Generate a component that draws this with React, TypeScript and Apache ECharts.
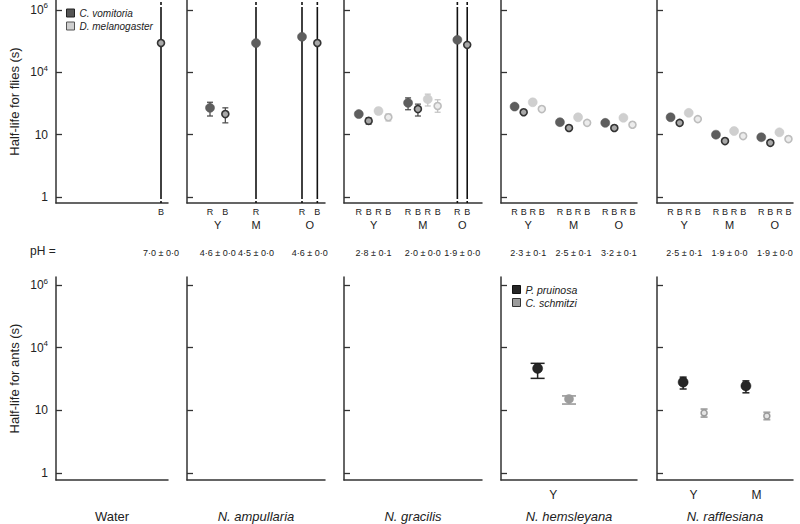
import React, { useEffect, useRef } from 'react';
import * as echarts from 'echarts';

// ---------------- data ----------------
const panelNames = ['Water', 'N. ampullaria', 'N. gracilis', 'N. hemsleyana', 'N. rafflesiana'];

// y axis: evenly spaced (broken) tick values, in seconds
const yTickValues = [1, 10, 1e4, 1e6];
const yTickLabels = ['1', '10', '{b|10}{s|4}', '{b|10}{s|6}'];

// flies: number of slots on each panel's x axis, age-group labels and pH
const flySlotCount = [8, 9, 14, 15, 15];
const flyGroupLabels = [[''], ['Y', 'M', 'O'], ['Y', 'M', 'O'], ['Y', 'M', 'O'], ['Y', 'M', 'O']];
const pHValues = [
  ['7·0 ± 0·0'],
  ['4·6 ± 0·0', '4·5 ± 0·0', '4·6 ± 0·0'],
  ['2·8 ± 0·1', '2·0 ± 0·0', '1·9 ± 0·0'],
  ['2·3 ± 0·1', '2·5 ± 0·1', '3·2 ± 0·1'],
  ['2·5 ± 0·1', '1·9 ± 0·0', '1·9 ± 0·0'],
];

// records: [panel, age group, slot, half-life (s), lower, upper]  (upper = Infinity: unbounded)
const vomitoriaRed = [
  [1, 0, 1, 195, 79, 363],
  [1, 1, 4, 87000, 0, Infinity],
  [1, 2, 7, 138000, 0, Infinity],
  [2, 0, 1, 98, 74, 129],
  [2, 1, 6, 339, 158, 589],
  [2, 2, 11, 110000, 0, Infinity],
  [3, 0, 1, 224, 180, 280],
  [3, 1, 6, 40, 32, 50],
  [3, 2, 11, 37, 30, 46],
  [4, 0, 1, 69, 56, 85],
  [4, 1, 6, 10, 9.3, 10.8],
  [4, 2, 11, 9.1, 8.5, 9.8],
];
const vomitoriaBlue = [
  [0, 0, 7, 87000, 0, Infinity],
  [1, 0, 2, 98, 37, 195],
  [1, 2, 8, 87000, 0, Infinity],
  [2, 0, 2, 46, 32, 65],
  [2, 1, 7, 170, 79, 295],
  [2, 2, 12, 76000, 0, Infinity],
  [3, 0, 2, 120, 97, 148],
  [3, 1, 7, 21, 17, 26],
  [3, 2, 12, 21, 17, 26],
  [4, 0, 2, 37, 30, 46],
  [4, 1, 7, 7.9, 7.4, 8.5],
  [4, 2, 12, 7.4, 6.9, 7.9],
];
const melanogasterRed = [
  [2, 0, 3, 138, 98, 182],
  [2, 1, 8, 513, 240, 891],
  [3, 0, 3, 363, 295, 447],
  [3, 1, 8, 69, 56, 85],
  [3, 2, 13, 65, 53, 80],
  [4, 0, 3, 112, 91, 138],
  [4, 1, 8, 15, 14, 16.2],
  [4, 2, 13, 13, 12.2, 14],
];
const melanogasterBlue = [
  [2, 0, 4, 69, 46, 98],
  [2, 1, 9, 240, 120, 479],
  [3, 0, 4, 170, 138, 209],
  [3, 1, 9, 37, 30, 46],
  [3, 2, 14, 30, 24, 37],
  [4, 0, 4, 56, 45, 69],
  [4, 1, 9, 9.5, 8.9, 10.2],
  [4, 2, 14, 8.5, 7.9, 9.1],
];

// ants
const antSlotCount = [13, 13, 13, 13, 13];
const antGroupLabels = [[], [], [], ['Y'], ['Y', 'M']];
const pruinosa = [
  [3, 0, 3, 1020, 339, 1780],
  [4, 0, 2, 224, 105, 389],
  [4, 1, 8, 148, 69, 257],
];
const schmitzi = [
  [3, 0, 6, 35, 20, 49],
  [4, 0, 4, 9.1, 7.8, 11.5],
  [4, 1, 10, 8.1, 7.1, 9.3],
];

// ---------------- layout & style ----------------
const FONT = '"Liberation Sans", Arial, Helvetica, sans-serif';
const panelLeft = [56, 187, 344, 501, 657];
const panelRight = [168, 325, 482, 637, 793];
const flyGrid = { top: 0, height: 203 };
const antGrid = { top: 277, height: 203 };
const flyRange = { min: -0.096, max: 3.16 };
const antRange = { min: -0.112, max: 3.128 };
const antCapWidth = [0, 0, 0, 14, 7];

const flyKinds = [
  { name: 'C. vomitoria', recs: vomitoriaRed, trap: 'R', size: 9, color: '#5e5e5e', border: '#555', bw: 0.5, err: '#444' },
  { name: 'C. vomitoria', recs: vomitoriaBlue, trap: 'B', size: 7, color: '#a8a8a8', border: '#333', bw: 1.6, err: '#444' },
  { name: 'D. melanogaster', recs: melanogasterRed, trap: 'R', size: 9, color: '#cfcfcf', border: '#c8c8c8', bw: 0.5, err: '#c2c2c2' },
  { name: 'D. melanogaster', recs: melanogasterBlue, trap: 'B', size: 7, color: '#ececec', border: '#bdbdbd', bw: 1.6, err: '#c2c2c2' },
];

const logTicks = yTickValues.map((v) => Math.log10(v));
function toPos(v: number): number {
  const l = Math.log10(v);
  const n = logTicks.length;
  for (let k = 0; k < n - 1; k++) {
    if (l <= logTicks[k + 1] || k === n - 2) {
      return k + (l - logTicks[k]) / (logTicks[k + 1] - logTicks[k]);
    }
  }
  return n - 1;
}

function errRender(cap: number, color: string, width: number, openColor: string) {
  return (params: any, api: any) => {
    const x = api.value(0);
    const lo = api.value(2);
    const hi = api.value(3);
    const open = api.value(4);
    const seg = (a: number[], b: number[], stroke: string, dash?: number[], w = width) => ({
      type: 'line',
      shape: { x1: a[0], y1: a[1], x2: b[0], y2: b[1] },
      style: { stroke, lineWidth: w, lineDash: dash || null },
    });
    const children: any[] = [];
    if (open) {
      const pMin = api.coord([x, lo]);
      const p0 = api.coord([x, 0]);
      const p3 = api.coord([x, yTickValues.length - 1]);
      const pMax = api.coord([x, hi]);
      children.push(seg(p0, p3, openColor, undefined, 1.6));
      children.push(seg(pMin, p0, openColor, [2, 2], 1.6));
      children.push(seg(p3, pMax, openColor, [3, 2], 1.6));
    } else {
      const a = api.coord([x, lo]);
      const b = api.coord([x, hi]);
      const h = cap / 2;
      children.push(seg(a, b, color));
      children.push(seg([a[0] - h, a[1]], [a[0] + h, a[1]], color));
      children.push(seg([b[0] - h, b[1]], [b[0] + h, b[1]], color));
    }
    return { type: 'group', children };
  };
}

function yAxisFor(gridIndex: number, range: any, showLabels: boolean, name: string) {
  return {
    type: 'value',
    gridIndex,
    min: range.min,
    max: range.max,
    axisLine: { show: true, onZero: false, lineStyle: { color: '#333', width: 1.5 } },
    axisTick: { show: true, inside: true, length: 6, customValues: [0, 1, 2, 3], lineStyle: { color: '#333', width: 1.3 } },
    axisLabel: {
      show: showLabels,
      customValues: [0, 1, 2, 3],
      margin: 8,
      color: '#222',
      fontSize: 12,
      fontFamily: FONT,
      hideOverlap: false,
      formatter: (v: number) => yTickLabels[Math.round(v)] ?? '',
      rich: {
        b: { fontSize: 12, color: '#222', fontFamily: FONT, lineHeight: 16 },
        s: { fontSize: 8, color: '#222', fontFamily: FONT, lineHeight: 8, verticalAlign: 'top' },
      },
    },
    splitLine: { show: false },
    name,
    nameLocation: 'middle',
    nameGap: 35,
    nameTextStyle: { fontSize: 13, color: '#222', fontFamily: FONT },
  };
}

function xAxisFor(gridIndex: number, n: number, values: number[], labels: string[], o: any) {
  const map = new Map(values.map((v, i) => [v.toFixed(2), labels[i]]));
  return {
    type: 'value',
    gridIndex,
    min: 0,
    max: n,
    position: 'bottom',
    axisLine: { show: !!o.line, onZero: false, lineStyle: { color: '#333', width: 1.5 } },
    axisTick: { show: false },
    splitLine: { show: false },
    axisLabel: {
      show: values.length > 0,
      customValues: values.length ? values : undefined,
      formatter: (v: number) => map.get(v.toFixed(2)) ?? '',
      margin: o.margin,
      fontSize: o.fontSize,
      color: '#222',
      fontFamily: FONT,
      fontStyle: o.fontStyle || 'normal',
      hideOverlap: false,
      showMinLabel: true,
      showMaxLabel: true,
    },
  };
}

function buildOption() {
  const grid: any[] = [];
  const xAxis: any[] = [];
  const yAxis: any[] = [];
  const series: any[] = [];

  // ---- flies (top row) ----
  for (let p = 0; p < 5; p++) {
    const gi = p;
    grid.push({ left: panelLeft[p], width: panelRight[p] - panelLeft[p], top: flyGrid.top, height: flyGrid.height });
    yAxis.push(yAxisFor(gi, flyRange, p === 0, p === 0 ? 'Half-life for flies (s)' : ''));
    const slotVals: number[] = [];
    const slotLabs: string[] = [];
    const groupXs: number[][] = flyGroupLabels[p].map(() => []);
    flyKinds.forEach((k) => {
      k.recs.filter((r) => r[0] === p).forEach((r) => {
        slotVals.push(r[2] + 0.5);
        slotLabs.push(k.trap);
        groupXs[r[1]].push(r[2] + 0.5);
      });
    });
    const groupCenters = groupXs.map((xs) => xs.reduce((a, b) => a + b, 0) / xs.length);
    const xi = xAxis.length;
    xAxis.push(xAxisFor(gi, flySlotCount[p], slotVals, slotLabs, { line: true, margin: 4, fontSize: 9 }));
    xAxis.push(xAxisFor(gi, flySlotCount[p], groupCenters, flyGroupLabels[p], { margin: 16, fontSize: 11 }));
    xAxis.push(xAxisFor(gi, flySlotCount[p], groupCenters, pHValues[p], { margin: 45, fontSize: 9 }));

    flyKinds.forEach((k) => {
      const recs = k.recs.filter((r) => r[0] === p);
      if (!recs.length) return;
      series.push({
        type: 'custom',
        xAxisIndex: xi,
        yAxisIndex: gi,
        z: 2,
        silent: true,
        renderItem: errRender(6, k.err, 1.2, '#111'),
        data: recs.map((r) => {
          const open = !isFinite(r[5]);
          return [r[2] + 0.5, toPos(r[3]), open ? flyRange.min : toPos(r[4]), open ? flyRange.max : toPos(r[5]), open ? 1 : 0];
        }),
      });
      series.push({
        type: 'scatter',
        name: k.name,
        xAxisIndex: xi,
        yAxisIndex: gi,
        z: 3,
        silent: true,
        symbol: 'circle',
        symbolSize: k.size,
        itemStyle: { color: k.color, borderColor: k.border, borderWidth: k.bw, opacity: 1 },
        data: recs.map((r) => [r[2] + 0.5, toPos(r[3])]),
      });
    });
  }

  // ---- ants (bottom row) ----
  const antKinds = [
    { name: 'P. pruinosa', recs: pruinosa, size: 10, color: '#262626', border: '#111', bw: 0.5, err: '#222', w: 1.5 },
    { name: 'C. schmitzi', recs: schmitzi, size: 9, color: '#9c9c9c', border: '#999', bw: 0.5, err: '#a5a5a5', w: 1.8 },
  ];
  for (let p = 0; p < 5; p++) {
    const gi = 5 + p;
    grid.push({ left: panelLeft[p], width: panelRight[p] - panelLeft[p], top: antGrid.top, height: antGrid.height });
    yAxis.push(yAxisFor(gi, antRange, p === 0, p === 0 ? 'Half-life for ants (s)' : ''));
    const groupXs: number[][] = antGroupLabels[p].map(() => []);
    antKinds.forEach((k) => k.recs.filter((r) => r[0] === p).forEach((r) => groupXs[r[1]].push(r[2] + 0.5)));
    const groupCenters = groupXs.map((xs) => xs.reduce((a, b) => a + b, 0) / xs.length);
    const xi = xAxis.length;
    xAxis.push(xAxisFor(gi, antSlotCount[p], groupCenters, antGroupLabels[p], { line: true, margin: 9, fontSize: 12 }));
    xAxis.push(
      xAxisFor(gi, antSlotCount[p], [antSlotCount[p] / 2], [panelNames[p]], {
        margin: 30,
        fontSize: 13,
        fontStyle: p === 0 ? 'normal' : 'italic',
      })
    );
    antKinds.forEach((k, ki) => {
      const recs = k.recs.filter((r) => r[0] === p);
      if (!recs.length) return;
      const ring = ki === 1 && p === 4;
      series.push({
        type: 'custom',
        xAxisIndex: xi,
        yAxisIndex: gi,
        z: 2,
        silent: true,
        renderItem: errRender(antCapWidth[p], k.err, k.w, '#111'),
        data: recs.map((r) => [r[2] + 0.5, toPos(r[3]), toPos(r[4]), toPos(r[5]), 0]),
      });
      series.push({
        type: 'scatter',
        name: k.name,
        xAxisIndex: xi,
        yAxisIndex: gi,
        z: 3,
        silent: true,
        symbol: 'circle',
        symbolSize: ring ? 6 : k.size,
        itemStyle: ring
          ? { color: '#e4e4e4', borderColor: '#999', borderWidth: 1.5, opacity: 1 }
          : { color: k.color, borderColor: k.border, borderWidth: k.bw, opacity: 1 },
        data: recs.map((r) => [r[2] + 0.5, toPos(r[3])]),
      });
    });
  }

  const legendText = { fontSize: 10, fontStyle: 'italic', color: '#222', fontFamily: FONT };
  return {
    animation: false,
    textStyle: { fontFamily: FONT },
    grid,
    xAxis,
    yAxis,
    series,
    legend: [
      {
        left: 66,
        top: 8,
        padding: 0,
        orient: 'vertical',
        itemWidth: 8,
        itemHeight: 8,
        itemGap: 3,
        selectedMode: false,
        textStyle: legendText,
        data: [
          { name: 'C. vomitoria', icon: 'rect', itemStyle: { color: '#555', borderColor: '#222', borderWidth: 1 } },
          { name: 'D. melanogaster', icon: 'rect', itemStyle: { color: '#cfcfcf', borderColor: '#555', borderWidth: 1 } },
        ],
      },
      {
        left: 512,
        top: 284,
        padding: 0,
        orient: 'vertical',
        itemWidth: 8,
        itemHeight: 8,
        itemGap: 2,
        selectedMode: false,
        textStyle: { ...legendText, fontSize: 10.5 },
        data: [
          { name: 'P. pruinosa', icon: 'rect', itemStyle: { color: '#262626', borderColor: '#111', borderWidth: 1 } },
          { name: 'C. schmitzi', icon: 'rect', itemStyle: { color: '#9c9c9c', borderColor: '#333', borderWidth: 1 } },
        ],
      },
    ],
    graphic: [
      {
        type: 'text',
        left: 30,
        top: 245,
        style: { text: 'pH =', fontSize: 12, fill: '#222', fontFamily: FONT },
      },
    ],
  };
}

export default function App() {
  const ref = useRef<HTMLDivElement>(null);
  useEffect(() => {
    if (!ref.current) return;
    const chart = echarts.init(ref.current, undefined, { renderer: 'svg' });
    chart.setOption(buildOption() as any);
    return () => chart.dispose();
  }, []);
  return <div ref={ref} style={{ position: 'absolute', left: 0, top: 0, width: 800, height: 524 }} />;
}
